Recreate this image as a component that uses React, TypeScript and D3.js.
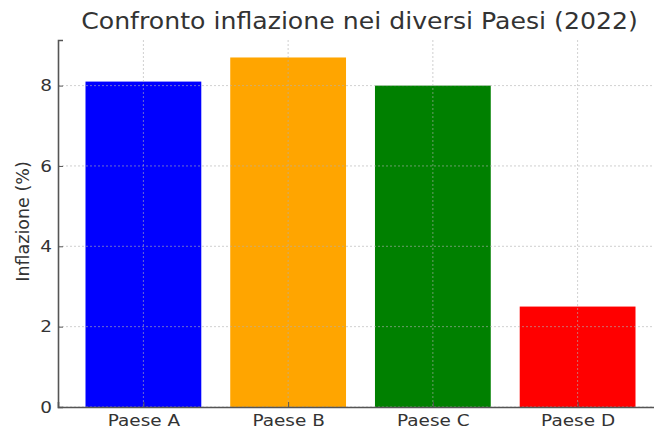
import { useEffect, useRef } from 'react';
import * as d3 from 'd3';

const paesi = ['Paese A', 'Paese B', 'Paese C', 'Paese D'];
const inflazione = [8.1, 8.7, 8.0, 2.5];
const colori = ['#0000ff', '#ffa500', '#008000', '#ff0000'];
const yTicks = [0, 2, 4, 6, 8];

const W = 654;
const H = 434;

const InflationChart = () => {
  const svgRef = useRef<SVGSVGElement>(null);

  useEffect(() => {
    if (!svgRef.current) return;

    const margin = { top: 40, right: -9, bottom: 27, left: 58 };
    const width = W - margin.left - margin.right;
    const height = H - margin.top - margin.bottom;

    const svg = d3.select(svgRef.current);
    svg.selectAll('*').remove();

    const g = svg.append('g')
      .attr('transform', `translate(${margin.left},${margin.top})`);

    const n = paesi.length;
    // limits like matplotlib: bars 0.8 wide, 5% padding
    const span = (n - 1) + 0.8;
    const pad = span * 0.05;
    const x = d3.scaleLinear().domain([-0.4 - pad, n - 1 + 0.4 + pad]).range([0, width]);
    const yMax = d3.max(inflazione)! * 1.05;
    const y = d3.scaleLinear().domain([0, yMax]).range([height, 0]);

    const font = 'DejaVu Sans, sans-serif';
    const sx = 1.12; // picture is a bit wider than tall

    // bars
    g.selectAll('rect.bar')
      .data(inflazione)
      .join('rect')
      .attr('class', 'bar')
      .attr('x', (_, i) => x(i - 0.4))
      .attr('width', x(0.8) - x(0))
      .attr('y', d => y(d))
      .attr('height', d => height - y(d))
      .attr('fill', (_, i) => colori[i]);

    // grid on top of the bars
    const grid = g.append('g').attr('stroke', '#b0b0b0').attr('stroke-opacity', 0.6)
      .attr('stroke-width', 1).attr('stroke-dasharray', '2,2');
    grid.selectAll('line.gy')
      .data(yTicks)
      .join('line')
      .attr('class', 'gy')
      .attr('x1', 0).attr('x2', width)
      .attr('y1', d => y(d)).attr('y2', d => y(d));
    grid.selectAll('line.gx')
      .data(paesi)
      .join('line')
      .attr('class', 'gx')
      .attr('x1', (_, i) => x(i)).attr('x2', (_, i) => x(i))
      .attr('y1', 0).attr('y2', height);

    // axes, ticks pointing inward
    const yAxis = g.append('g')
      .call(d3.axisLeft(y).tickValues(yTicks).tickFormat(d3.format('d')).tickSize(-5).tickPadding(6));
    const xAxis = g.append('g')
      .attr('transform', `translate(0,${height})`)
      .call(d3.axisBottom(x).tickValues(d3.range(n)).tickFormat((_, i) => paesi[i]).tickSize(-5).tickPadding(7));

    [xAxis, yAxis].forEach(a => {
      a.selectAll('.domain').attr('stroke', '#555').attr('stroke-width', 1.6);
      a.selectAll('.tick line').attr('stroke', '#555');
      a.selectAll('text').attr('fill', '#333').attr('font-family', font).attr('font-size', 16.5);
    });
    xAxis.selectAll('text').attr('transform', `scale(${sx},1)`);
    yAxis.selectAll('text').attr('x', -6 / sx).attr('transform', `scale(${sx},1)`);

    // y label
    svg.append('text')
      .attr('transform', `translate(28.5,${margin.top + height / 2 - 2}) rotate(-90)`)
      .attr('text-anchor', 'middle')
      .attr('font-family', font)
      .attr('font-size', 17.5)
      .attr('fill', '#333')
      .text('Inflazione (%)');

    // title
    svg.append('text')
      .attr('transform', `translate(${margin.left + width / 2 - 1},28.5) scale(1.095,1)`)
      .attr('text-anchor', 'middle')
      .attr('font-family', font)
      .attr('font-size', 23)
      .attr('fill', '#333')
      .text('Confronto inflazione nei diversi Paesi (2022)');
  }, []);

  return <svg ref={svgRef} width={W} height={H} style={{ display: 'block' }} />;
};

export default function App() {
  return (
    <div style={{ position: 'fixed', left: 0, top: 0, background: '#fff' }}>
      <InflationChart />
    </div>
  );
}
